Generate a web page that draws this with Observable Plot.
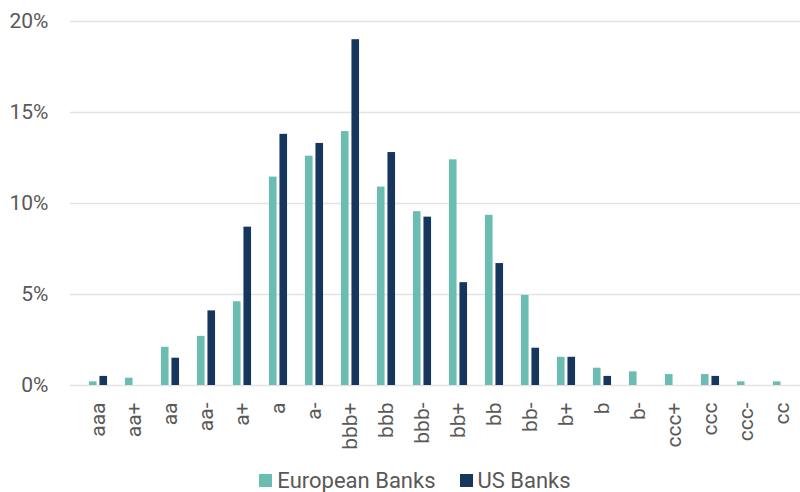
<!DOCTYPE html>
<html>
<head>
<meta charset="utf-8">
<script src="https://cdn.jsdelivr.net/npm/d3@7"></script>
<script src="https://cdn.jsdelivr.net/npm/@observablehq/plot@0.6"></script>
<style>
  body { margin: 0; background: #fff; font-family: Roboto, "Noto Sans", sans-serif; }
  #chart svg { display: block; }
  .legend { display: flex; justify-content: center; align-items: center; gap: 24px; height: 32px; padding-top: 10px; font-size: 22px; color: #595959; margin-left: 30px; }
  .legend span.item { display: flex; align-items: center; gap: 5px; }
  .legend span.sw { display: inline-block; width: 13px; height: 13px; }
</style>
</head>
<body>
<div id="chart"></div>
<script>
const categories = ["aaa","aa+","aa","aa-","a+","a","a-","bbb+","bbb","bbb-","bb+","bb","bb-","b+","b","b-","ccc+","ccc","ccc-","cc"];
const european = [0.2,0.4,2.1,2.7,4.6,11.45,12.6,13.95,10.9,9.55,12.4,9.35,4.95,1.55,0.95,0.75,0.6,0.6,0.2,0.2];
const us = [0.5,0,1.5,4.1,8.7,13.8,13.3,19.0,12.8,9.25,5.65,6.7,2.05,1.55,0.5,0,0,0.5,0,0];
const yTicks = [0,5,10,15,20];
const seriesNames = ["European Banks","US Banks"];
const seriesColors = ["#6bbcb1","#17365e"];

const euData = categories.map((c,i) => ({cat: c, v: european[i]}));
const usData = categories.map((c,i) => ({cat: c, v: us[i]}));

const step = (809 - 71) / categories.length;
const barW = 8.5, gap = 2;
const euInsetL = step/2 - gap/2 - barW;
const euInsetR = step/2 + gap/2;

const chart = Plot.plot({
  width: 800,
  height: 454,
  marginLeft: 70,
  marginRight: 0,
  marginTop: 21,
  marginBottom: 69,
  style: {fontFamily: "Roboto, sans-serif", fontSize: "21px", color: "#595959", background: "#fff"},
  x: {type: "band", domain: categories, range: [71, 809], padding: 0},
  y: {domain: [0, 20]},
  marks: [
    Plot.gridY(yTicks, {stroke: "#e3e3e3", strokeOpacity: 1, strokeWidth: 1.5}),
    Plot.axisY({ticks: yTicks, tickSize: 0, tickPadding: 22, tickFormat: d => d + "%", label: null, fontSize: 21, fill: "#595959"}),
    Plot.axisX({tickSize: 0, tickPadding: 17, tickRotate: -90, label: null, fontSize: 21, fill: "#595959"}),
    Plot.barY(euData, {x: "cat", y: "v", fill: seriesColors[0], insetLeft: euInsetL, insetRight: euInsetR}),
    Plot.barY(usData, {x: "cat", y: "v", fill: seriesColors[1], insetLeft: euInsetR, insetRight: euInsetL})
  ]
});
document.getElementById("chart").appendChild(chart);

const legend = document.createElement("div");
legend.className = "legend";
seriesNames.forEach((n,i) => {
  const it = document.createElement("span");
  it.className = "item";
  const sw = document.createElement("span");
  sw.className = "sw";
  sw.style.background = seriesColors[i];
  it.appendChild(sw);
  it.appendChild(document.createTextNode(n));
  legend.appendChild(it);
});
document.body.appendChild(legend);
</script>
</body>
</html>
